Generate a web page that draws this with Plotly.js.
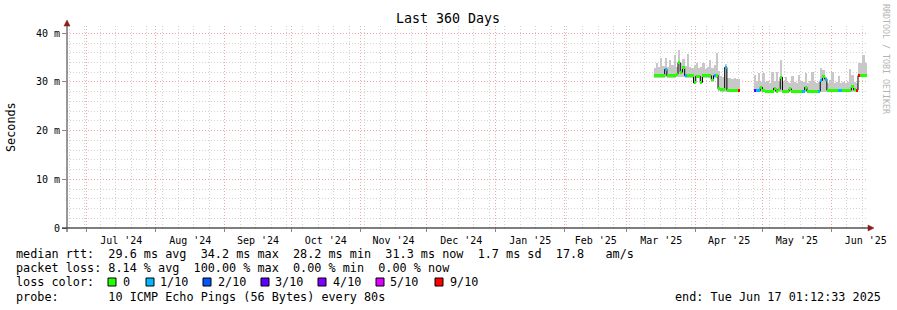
<!DOCTYPE html>
<html><head><meta charset="utf-8">
<script src="https://cdn.plot.ly/plotly-3.0.1.min.js"></script>
<style>html,body{margin:0;padding:0;background:#fff}#chart{width:897px;height:310px}</style>
</head><body><div id="chart"></div>
<script>
// ---- data (daily, starting 2025-03-13; nulls = no data) ----
const firstDay = [2025, 2, 13];
const medianRtt = [
  31.3,31.3,31.3,31.3,31.3,32.6,31.3,31.3,31.3,31.3,31.6,34.0,32.0,32.9,31.3,31.3,31.3,31.3,29.8,31.2,
  31.2,29.9,31.3,31.3,31.3,31.3,30.4,31.3,31.4,28.6,28.5,28.5,33.0,28.3,28.3,28.3,28.3,28.3,28.3,
  null,null,null,null,null,null,
  28.2,28.2,28.2,28.9,28.3,28.1,28.1,28.1,28.1,28.7,28.1,28.5,31.0,28.1,28.1,28.1,28.6,28.1,28.1,28.1,
  28.1,28.1,28.1,28.9,28.1,28.1,28.1,28.1,28.1,28.1,30.3,31.2,30.6,28.3,28.3,28.3,28.3,28.3,28.3,28.3,
  28.3,28.3,28.3,28.3,29.0,28.4,28.3,31.3,31.3,31.3,31.3,31.3
];
const smokeLow = [
  30.9,30.9,30.9,30.9,30.9,31.0,30.9,30.9,30.9,30.9,31.0,31.0,31.0,31.0,30.9,30.9,30.9,30.9,29.5,30.8,
  30.8,29.6,30.9,30.9,30.9,30.9,30.0,30.9,30.9,28.1,28.0,28.0,28.0,27.9,27.9,27.9,27.9,27.9,27.9,
  null,null,null,null,null,null,
  27.9,27.9,27.9,27.9,27.9,27.9,27.9,27.9,27.9,27.9,27.9,27.9,27.9,27.9,27.9,27.9,27.9,27.9,27.9,27.9,
  27.9,27.9,27.9,27.9,27.9,27.9,27.9,27.9,27.9,27.9,28.0,28.0,28.0,28.0,28.0,28.0,28.0,28.0,28.0,28.0,
  28.0,28.0,28.0,28.0,28.0,28.0,28.0,31.0,31.0,31.0,31.0,31.0
];
const smokeHigh = [
  32.8,34.0,33.0,34.9,33.2,35.0,33.0,34.5,33.4,35.5,33.0,36.5,34.0,34.8,33.2,35.8,33.0,32.8,33.5,34.0,
  32.8,33.0,34.0,32.6,33.0,34.6,32.8,33.4,36.0,32.2,31.2,31.0,33.6,30.8,30.9,30.6,30.8,30.7,30.6,
  null,null,null,null,null,null,
  31.4,30.2,31.8,29.9,31.8,30.0,30.2,29.8,32.0,30.3,32.0,30.0,34.5,30.3,31.0,30.0,29.8,31.3,30.0,29.8,
  31.5,30.2,30.0,31.8,29.8,30.2,32.0,30.0,29.8,30.0,32.8,32.5,31.0,29.8,30.5,32.0,29.8,29.9,31.2,29.8,
  30.0,29.7,29.9,32.6,31.5,30.0,29.8,33.8,34.0,35.5,33.8,35.9
];
const lossTenths = [
  0,0,0,0,0,1,0,0,0,0,0,0,0,0,1,0,0,0,0,0,
  0,0,0,0,0,0,0,1,0,0,0,0,1,0,0,0,0,0,9,
  null,null,null,null,null,null,
  3,1,1,0,0,0,0,0,0,0,0,0,0,0,0,0,0,0,0,0,
  0,0,1,0,0,0,0,0,0,1,1,0,1,0,0,0,0,0,1,1,
  0,0,0,0,0,0,9,9,0,0,0,0
];
const yTickVals = [0, 10, 20, 30, 40];
const yTickText = ['0', '10 m', '20 m', '30 m', '40 m'];
const lossLabels = ['0', '1/10', '2/10', '3/10', '4/10', '5/10', '9/10'];
const lossLevels = [0, 1, 2, 3, 4, 5, 9];
const lossColors = ['#26ff00', '#00b8ff', '#0059ff', '#5e00ff', '#7e00ff', '#dd00ff', '#ff0000'];
const titleText = 'Last 360 Days';
const statLines = [
  'median rtt:  29.6 ms avg  34.2 ms max  28.2 ms min  31.3 ms now  1.7 ms sd  17.8   am/s',
  'packet loss: 8.14 % avg  100.00 % max  0.00 % min  0.00 % now'
];
const lossTitle = 'loss color:';
const probeLine = 'probe:       10 ICMP Echo Pings (56 Bytes) every 80s';
const endLine = 'end: Tue Jun 17 01:12:33 2025';
const rangeStart = '2024-06-22 01:12:33', rangeEnd = '2025-06-17 01:12:33';

// ---- build ----
const DAY = 86400000;
const days = medianRtt.map((_, i) => new Date(Date.UTC(firstDay[0], firstDay[1], firstDay[2] + i, 12)).toISOString().slice(0, 10) + ' 12:00');
const colorOf = l => lossColors[lossLevels.indexOf(l)];
const nb = s => s.replace(/ /g, '\u00a0');
const L = 67, T = 26, W = 800, H = 202;
const px = p => (p - L) / W, py = p => (T + H - p) / H;
const mono = 'DejaVu Sans Mono';
const yRange = [0, 41.5];

const traces = [
  { type: 'bar', x: days, base: smokeLow, y: smokeHigh.map((h, i) => h == null ? null : h - smokeLow[i]),
    width: DAY, marker: { color: '#c8c8c8', line: { width: 0 } }, hoverinfo: 'skip' },
  { type: 'scatter', mode: 'lines', x: days, y: medianRtt, line: { shape: 'hvh', color: '#000', width: 1 },
    connectgaps: false, hoverinfo: 'skip' },
  { type: 'bar', xaxis: 'x2', yaxis: 'y2', x: days, base: medianRtt.map(v => v == null ? null : v - 0.3),
    y: medianRtt.map(v => v == null ? null : 0.6), width: DAY,
    marker: { color: lossTenths.map(l => l == null ? '#fff' : colorOf(l)), line: { width: 0 } }, hoverinfo: 'skip' }
];

const gridDash = '1px,2px';
const ann = (text, x, y, opts = {}) => Object.assign({
  text: nb(text), xref: 'paper', yref: 'paper', x: px(x), y: py(y), xanchor: 'left', yanchor: 'middle',
  showarrow: false, borderpad: 0, borderwidth: 0, font: { family: mono, size: 11.8, color: '#000' }
}, opts);

const annotations = [
  ann(titleText, 448, 19, { xanchor: 'center', font: { family: mono, size: 13.3, color: '#000' } }),
  ann('Seconds', 11, 127, { xanchor: 'center', textangle: -90 }),
  ann('RRDTOOL / TOBI OETIKER', 886, 59, { xanchor: 'center', textangle: 90, font: { family: mono, size: 8.3, color: '#b4b4b4' } }),
  ann(statLines[0], 16, 254),
  ann(statLines[1], 16, 268),
  ann(lossTitle, 16, 282),
  ann(probeLine, 16, 297),
  ann(endLine, 881, 297, { xanchor: 'right' })
];
const boxX = [108, 146, 203, 261, 318, 376, 435];
const labX = [123, 160, 218, 275, 333, 390, 450];
const shapes = [];
lossLabels.forEach((lab, i) => {
  annotations.push(ann(lab, labX[i], 282));
  shapes.push({ type: 'rect', xref: 'paper', yref: 'paper', x0: px(boxX[i]), x1: px(boxX[i] + 8), y0: py(286), y1: py(278),
    fillcolor: lossColors[i], line: { color: '#000', width: 1 } });
});
shapes.push({ type: 'line', xref: 'paper', yref: 'paper', x0: px(62), x1: px(869), y0: py(228), y1: py(228), line: { color: '#000', width: 1 } });
shapes.push({ type: 'line', xref: 'paper', yref: 'paper', x0: px(67), x1: px(67), y0: py(232), y1: py(24), line: { color: '#333', width: 1 } });
shapes.push({ type: 'path', xref: 'paper', yref: 'paper',
  path: `M ${px(868)},${py(225)} L ${px(874)},${py(228)} L ${px(868)},${py(231)} Z`, fillcolor: '#8b1c1c', line: { color: '#8b1c1c', width: 0.5 } });
shapes.push({ type: 'path', xref: 'paper', yref: 'paper',
  path: `M ${px(64)},${py(26)} L ${px(67)},${py(20)} L ${px(70)},${py(26)} Z`, fillcolor: '#8b1c1c', line: { color: '#8b1c1c', width: 0.5 } });

const layout = {
  width: 897, height: 310, margin: { l: L, r: 897 - L - W, t: T, b: 310 - T - H, pad: 0 },
  paper_bgcolor: '#fff', plot_bgcolor: '#fff', showlegend: false, barmode: 'overlay', bargap: 0,
  font: { family: mono, size: 10, color: '#000' },
  xaxis: { type: 'date', range: [rangeStart, rangeEnd], dtick: 'M1', tick0: '2024-07-01', tickformat: "%b '%y",
    ticklabelmode: 'period', showgrid: true, gridcolor: '#f4a4a4', griddash: gridDash, gridwidth: 1,
    ticks: 'outside', ticklen: 3, tickcolor: '#888', showline: false, zeroline: false, layer: 'above traces',
    tickfont: { family: mono, size: 10, color: '#000' },
    minor: { dtick: 7 * DAY, tick0: '2024-07-07', showgrid: true, gridcolor: '#d2d2d2', griddash: gridDash, gridwidth: 1 } },
  yaxis: { range: yRange, tickmode: 'array', tickvals: yTickVals, ticktext: yTickText,
    showgrid: true, gridcolor: '#f4a4a4', griddash: gridDash, gridwidth: 1, zeroline: false, showline: false,
    ticks: 'outside', ticklen: 4, tickcolor: '#888', layer: 'above traces', tickfont: { family: mono, size: 10, color: '#000' },
    minor: { dtick: 2, tick0: 0, showgrid: true, gridcolor: '#d2d2d2', griddash: gridDash, gridwidth: 1 } },
  xaxis2: { type: 'date', overlaying: 'x', range: [rangeStart, rangeEnd], visible: false, showgrid: false },
  yaxis2: { overlaying: 'y', range: yRange, visible: false, showgrid: false },
  annotations, shapes
};
Plotly.newPlot('chart', traces, layout, { staticPlot: true, displayModeBar: false });
</script></body></html>
